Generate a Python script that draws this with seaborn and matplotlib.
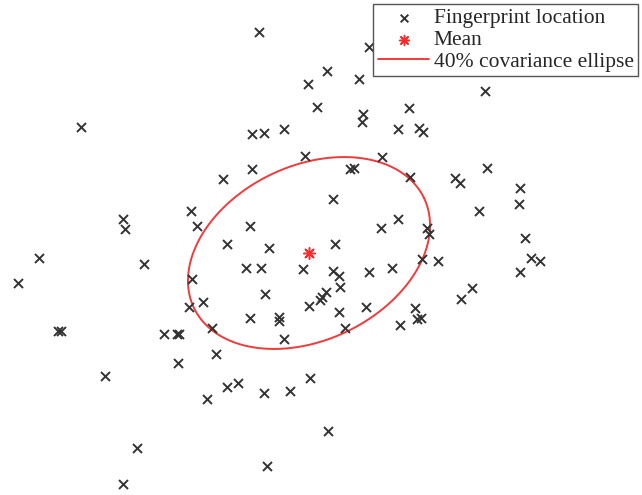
import numpy as np
import pandas as pd
import matplotlib
matplotlib.use("Agg")
import matplotlib.pyplot as plt
import seaborn as sns

# Fingerprint locations (horizontal position, vertical position measured downward)
loc_x = [259, 308, 317, 81, 252, 264, 284, 305, 252, 223, 191, 197, 123, 125, 250, 227, 269,
         369, 327, 359, 485, 409, 363, 362, 398, 419, 423, 382, 350, 354, 410, 455, 460, 487,
         520, 519, 479, 333, 381, 398, 427, 429, 525, 335,
         39, 144, 18, 246, 261, 303, 192, 203, 189, 265, 309, 250, 279, 279, 58, 61, 164, 177,
         179, 212, 284, 216, 178, 105, 310, 227, 238, 264, 290, 207, 137, 267, 123,
         422, 438, 531, 540, 520, 333, 339, 369, 392, 340, 326, 322, 320, 339, 366, 345, 472,
         461, 415, 417, 421, 400, 328]
loc_y = [32, 84, 107, 127, 134, 133, 129, 156, 169, 179, 211, 226, 219, 229, 226, 244, 248,
         47, 71, 79, 91, 108, 114, 122, 129, 128, 132, 157, 169, 168, 177, 178, 183, 168,
         188, 204, 211, 199, 228, 219, 228, 234, 238, 244,
         258, 264, 283, 268, 268, 269, 279, 302, 307, 294, 306, 318, 317, 321, 331, 331, 334, 334,
         334, 328, 339, 354, 363, 376, 378, 387, 383, 393, 391, 399, 448, 466, 484,
         259, 261, 258, 261, 272, 271, 276, 272, 268, 287, 292, 297, 300, 312, 307, 328, 288,
         299, 308, 319, 318, 325, 431]

# Mean location and 40% covariance ellipse parameters
mean_x, mean_y = 309, 253
ell_a, ell_b = 127.5, 87.2      # semi-axes
ell_angle = 25.5                # tilt of the major axis, degrees above horizontal

W, H = 642, 495

sns.set_theme(style="white")
plt.rcParams["font.family"] = ["Liberation Serif", "DejaVu Serif"]
plt.rcParams["mathtext.fontset"] = "stix"

fig = plt.figure(figsize=(W / 100, H / 100), dpi=100)
ax = fig.add_axes([0, 0, 1, 1])

df = pd.DataFrame({"x": loc_x, "y": [H - v for v in loc_y]})
sns.scatterplot(data=df, x="x", y="y", marker="x", color="#333333", s=42,
                linewidth=1.4, ax=ax, label="Fingerprint location", zorder=3)

sns.scatterplot(x=[mean_x], y=[H - mean_y], marker=(8, 2, 0), color="#ff2a2a",
                s=70, linewidth=1.1, ax=ax, label="Mean", zorder=4)

t = np.linspace(0, 2 * np.pi, 400)
th = np.deg2rad(ell_angle)
ex = mean_x + ell_a * np.cos(t) * np.cos(th) - ell_b * np.sin(t) * np.sin(th)
ey = (H - mean_y) + ell_a * np.cos(t) * np.sin(th) + ell_b * np.sin(t) * np.cos(th)
ax.plot(ex, ey, color="#f23a3a", linewidth=1.4, label="40% covariance ellipse", zorder=2)

ax.set_xlim(0, W)
ax.set_ylim(0, H)
ax.set_axis_off()

leg = ax.legend(loc="upper right", bbox_to_anchor=(638 / W, 1 - 4 / H),
                bbox_transform=ax.transAxes, borderaxespad=0, frameon=True,
                fancybox=False, edgecolor="#555555", framealpha=1,
                fontsize=15.5, handlelength=2.4, handletextpad=0.2,
                labelspacing=0.08, borderpad=0.2, markerscale=0.85)
leg.get_frame().set_linewidth(1.0)

fig.savefig("out.png", dpi=100)
